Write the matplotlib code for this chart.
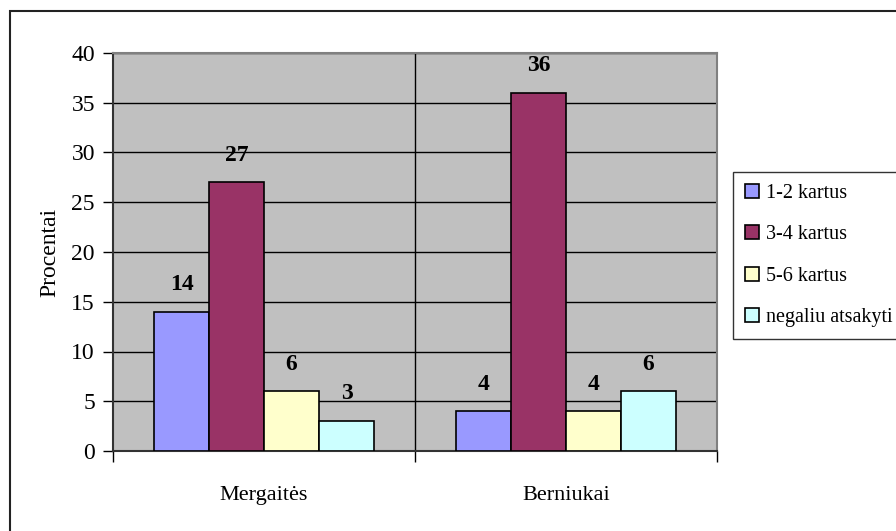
import matplotlib.pyplot as plt
from matplotlib.patches import Rectangle
import numpy as np

plt.rcParams['font.family'] = ['Liberation Serif', 'DejaVu Serif']

groups = ["Mergaitės", "Berniukai"]
series = ["1-2 kartus", "3-4 kartus", "5-6 kartus", "negaliu atsakyti"]
values = [
	[14, 4],
	[27, 36],
	[6, 4],
	[3, 6],
]
colors = ["#9999FF", "#993366", "#FFFFCC", "#CCFFFF"]

fig = plt.figure(figsize=(8.96, 5.31), dpi=100)
fig.patches.append(Rectangle((10 / 896, -0.1), 1.2, 1 - 11 / 531 + 0.1,
	transform=fig.transFigure, fill=False, edgecolor="#222222", linewidth=1.5))

ax = fig.add_axes([113 / 896, 1 - 451 / 531, 604 / 896, 398 / 531])
ax.set_facecolor("#C0C0C0")

x = np.arange(len(groups))
width = 0.182
offsets = [-1.5, -0.5, 0.5, 1.5]
for i, name in enumerate(series):
	bars = ax.bar(x + offsets[i] * width, values[i], width, color=colors[i],
		edgecolor="black", linewidth=1.2, label=name, zorder=3)
	for b, v in zip(bars, values[i]):
		ax.annotate(str(v), (b.get_x() + b.get_width() / 2, v), xytext=(0, 12),
			textcoords="offset points", ha="center", va="bottom",
			fontsize=17, fontweight="bold", zorder=4)

ax.set_xlim(-0.5, 1.5)
ax.set_ylim(0, 40)
ax.set_yticks(range(0, 41, 5))
ax.yaxis.grid(True, color="black", linewidth=1)
ax.axvline(0.5, color="black", linewidth=1)
ax.set_axisbelow(True)

ax.set_xticks([-0.5, 0.5, 1.5])
ax.set_xticklabels([])
ax.set_xticks(x, minor=True)
ax.set_xticklabels(groups, minor=True)
ax.tick_params(axis="x", which="major", length=8, width=1, direction="out")
ax.tick_params(axis="x", which="minor", length=0, pad=25, labelsize=16)
ax.tick_params(axis="y", length=7, width=1, direction="out", labelsize=17, pad=6)
ax.set_ylabel("Procentai", fontsize=17, labelpad=8)

for s in ["top", "right"]:
	ax.spines[s].set_color("#808080")
	ax.spines[s].set_linewidth(1.5)
for s in ["left", "bottom"]:
	ax.spines[s].set_color("#333333")
	ax.spines[s].set_linewidth(1.5)

leg = fig.legend(loc="upper left", bbox_to_anchor=(733 / 896, 1 - 172 / 531),
	fontsize=14.5, frameon=True, fancybox=False, edgecolor="black",
	handlelength=0.7, handleheight=0.7, handletextpad=0.35, labelspacing=1.1,
	borderpad=0.6, borderaxespad=0)
leg.get_frame().set_linewidth(1)

fig.savefig("out.png", dpi=100)
